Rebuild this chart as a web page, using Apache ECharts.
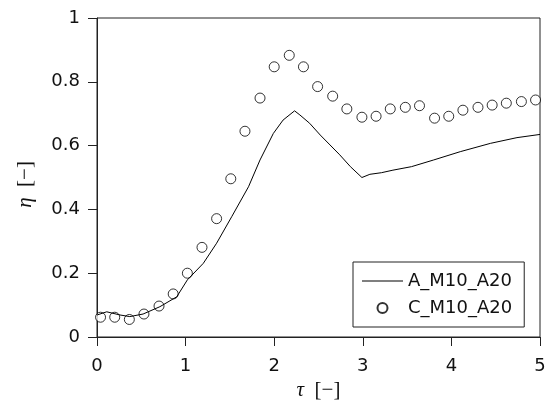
<!DOCTYPE html>
<html>
<head>
<meta charset="utf-8">
<script src="https://cdn.jsdelivr.net/npm/echarts@6/dist/echarts.min.js"></script>
<style>html,body{margin:0;padding:0;background:#fff;}#c{width:554px;height:406px;}</style>
</head>
<body>
<div id="c"></div>
<script>
var tauA = [0.00, 0.11, 0.26, 0.37, 0.52, 0.71, 0.90, 1.02, 1.20, 1.35, 1.52, 1.71, 1.84, 1.99, 2.10, 2.23, 2.29, 2.40, 2.52, 2.63, 2.74, 2.86, 2.99, 3.08, 3.21, 3.34, 3.55, 3.80, 4.10, 4.44, 4.74, 5.00];
var etaA = [0.069, 0.079, 0.069, 0.064, 0.072, 0.095, 0.126, 0.179, 0.231, 0.294, 0.377, 0.471, 0.555, 0.638, 0.680, 0.709, 0.696, 0.670, 0.633, 0.602, 0.571, 0.534, 0.500, 0.510, 0.515, 0.523, 0.534, 0.555, 0.581, 0.607, 0.625, 0.635];
var tauC = [0.04, 0.20, 0.365, 0.53, 0.70, 0.86, 1.02, 1.185, 1.35, 1.51, 1.67, 1.84, 2.00, 2.17, 2.33, 2.49, 2.66, 2.82, 2.99, 3.15, 3.31, 3.48, 3.64, 3.81, 3.97, 4.13, 4.30, 4.46, 4.62, 4.79, 4.95];
var etaC = [0.062, 0.062, 0.055, 0.072, 0.097, 0.135, 0.200, 0.281, 0.371, 0.496, 0.645, 0.749, 0.847, 0.883, 0.847, 0.785, 0.755, 0.715, 0.689, 0.692, 0.715, 0.720, 0.725, 0.686, 0.692, 0.711, 0.720, 0.727, 0.733, 0.738, 0.743];
var xTicks = [0, 1, 2, 3, 4, 5];
var yTicks = [0, 0.2, 0.4, 0.6, 0.8, 1];
var nameA = 'A_M10_A20';
var nameC = 'C_M10_A20';

function pairs(xs, ys) { return xs.map(function (x, i) { return [x, ys[i]]; }); }

var font = '"DejaVu Sans", sans-serif';
var serif = '"Liberation Serif", "DejaVu Serif", serif';
var chart = echarts.init(document.getElementById('c'), null, {renderer: 'canvas'});
chart.setOption({
  animation: false,
  backgroundColor: '#fff',
  grid: {left: 97, right: 14, top: 18, bottom: 69, show: true, borderColor: '#222', borderWidth: 1, backgroundColor: 'transparent'},
  legend: {
    show: true,
    orient: 'vertical', left: 353, top: 262,
    padding: [10, 12, 10, 9], itemGap: 9,
    itemWidth: 41, itemHeight: 10,
    borderColor: '#222', borderWidth: 1, borderRadius: 0,
    backgroundColor: '#fff',
    textStyle: {fontFamily: font, fontSize: 18, color: '#111'},
    data: [
      {name: nameA, icon: 'path://M0,0 L41,0 L41,1 L0,1 Z', itemStyle: {color: '#000', borderWidth: 0}},
      {name: nameC, icon: 'circle'}
    ]
  },
  xAxis: {
    type: 'value', min: 0, max: 5, interval: 1,
    name: '{i|τ}  [−]', nameLocation: 'middle', nameGap: 37,
    nameTextStyle: {fontFamily: serif, fontSize: 21, color: '#111', rich: {i: {fontFamily: serif, fontStyle: 'italic', fontSize: 21, color: '#111'}}},
    axisLine: {onZero: false, lineStyle: {color: '#222', width: 1}},
    axisTick: {show: true, inside: false, length: 9, lineStyle: {color: '#222'}},
    axisLabel: {fontFamily: font, fontSize: 18, color: '#111', margin: 20, formatter: function (v) { return xTicks.indexOf(v) >= 0 ? String(v) : ''; }},
    splitLine: {show: false}
  },
  yAxis: {
    type: 'value', min: 0, max: 1, interval: 0.2,
    name: '{i|η}  [−]', nameLocation: 'middle', nameGap: 61, nameRotate: 90,
    nameTextStyle: {fontFamily: serif, fontSize: 21, color: '#111', padding: [0, 14, 0, 0], rich: {i: {fontFamily: serif, fontStyle: 'italic', fontSize: 21, color: '#111'}}},
    axisLine: {onZero: false, lineStyle: {color: '#222', width: 1}},
    axisTick: {show: true, inside: false, length: 9, lineStyle: {color: '#222'}},
    axisLabel: {fontFamily: font, fontSize: 18, color: '#111', margin: 17, formatter: function (v) { var r = Math.round(v * 10) / 10; return yTicks.indexOf(r) >= 0 ? String(r) : ''; }},
    splitLine: {show: false}
  },
  series: [
    {name: nameA, type: 'line', data: pairs(tauA, etaA), showSymbol: false, symbol: 'none', smooth: false,
     lineStyle: {color: '#000', width: 1}, itemStyle: {color: '#000'}},
    {name: nameC, type: 'scatter', data: pairs(tauC, etaC), symbol: 'circle', symbolSize: 10,
     itemStyle: {color: '#fff', borderColor: '#000', borderWidth: 1}}
  ]
});
</script>
</body>
</html>
